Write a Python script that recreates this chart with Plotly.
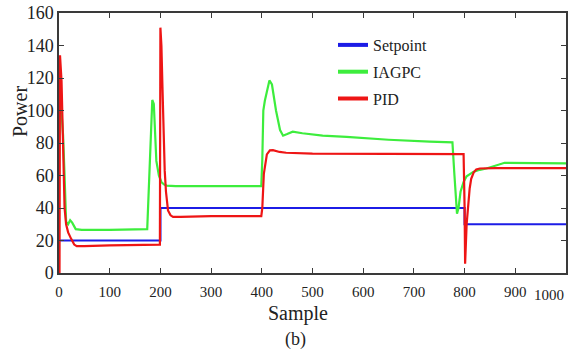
import plotly.graph_objects as go

# ---- data ----
setpoint_x = [0, 200, 200, 800, 800, 1000]
setpoint_y = [20, 20, 40, 40, 30, 30]

iagpc_x = [3, 5, 8, 11, 14, 18, 22, 26, 33, 45, 100, 174, 178, 182, 184, 187, 192, 197,
           202, 207, 212, 230, 300, 399, 401, 403, 406, 410, 415, 420, 428, 436, 442,
           450, 461, 480, 520, 567, 650, 731, 776, 780, 785, 788, 792, 798, 804, 817,
           830, 843, 860, 879, 1000]
iagpc_y = [108, 100, 85, 60, 31.5, 30, 32.5, 31, 27, 26.5, 26.5, 27, 60, 100, 106.5, 104,
           69, 60, 56, 54.5, 53.8, 53.5, 53.5, 53.5, 70, 100, 106, 112, 118.5, 116, 100,
           88, 84.5, 85.5, 87, 86, 84.5, 83.8, 82, 80.8, 80.4, 60, 36.5, 40, 50, 56,
           59.5, 62.2, 63.5, 64.3, 66, 67.8, 67.5]

pid_x = [1, 2, 5, 8, 11, 14, 18, 24, 30, 35, 50, 100, 199, 200, 202, 204, 206, 208.5, 211,
         215, 220, 225, 240, 300, 399, 401, 404, 410, 416, 422, 435, 448, 500, 600, 700,
         798, 800, 801, 804, 807, 810, 813, 818, 823, 830, 860, 1000]
pid_y = [0, 134, 118, 85, 40, 30, 25, 21, 17.5, 16.5, 16.5, 17, 17.5, 151, 140, 115, 90,
         63, 50, 38.5, 35.5, 34.5, 34.5, 35, 35, 40, 61, 73, 75.5, 75.6, 74.5, 74, 73.5,
         73.3, 73.2, 73.1, 40, 5.7, 30, 42.7, 52, 58, 62, 63.7, 64.3, 64.5, 64.5]

x_ticks = [0, 100, 200, 300, 400, 500, 600, 700, 800, 900]
y_ticks = [0, 20, 40, 60, 80, 100, 120, 140, 160]

BLUE = "#1c1ce6"
GREEN = "#3ded3d"
RED = "#ee1515"
FONT = "Liberation Serif, Times New Roman, serif"
AX = "#3a3a3a"
TXT = "#222"

W, H = 573, 350
ML, MR, MT, MB = 59, 7, 13, 77
PW = W - ML - MR
PH = H - MT - MB


def px_x(p):  # page pixel -> paper x
    return (p - ML) / PW


def px_y(p):  # page pixel -> paper y
    return (H - MB - p) / PH


fig = go.Figure()
fig.add_trace(go.Scatter(x=setpoint_x, y=setpoint_y, mode="lines",
                         line=dict(color=BLUE, width=2.2), showlegend=False))
fig.add_trace(go.Scatter(x=iagpc_x, y=iagpc_y, mode="lines",
                         line=dict(color=GREEN, width=2.2), showlegend=False))
fig.add_trace(go.Scatter(x=pid_x, y=pid_y, mode="lines",
                         line=dict(color=RED, width=2.2), showlegend=False))

# legend entries
for name, col in [("Setpoint", BLUE), ("IAGPC", GREEN), ("PID", RED)]:
    fig.add_trace(go.Scatter(x=[None], y=[None], mode="lines", name=name,
                             legendgroup=name, line=dict(color=col, width=4)))

fig.update_layout(
    width=W, height=H,
    margin=dict(l=ML, r=MR, t=MT, b=MB, autoexpand=False),
    paper_bgcolor="white", plot_bgcolor="white",
    font=dict(family=FONT, color=TXT),
    legend=dict(x=px_x(333), y=px_y(28), xanchor="left", yanchor="top",
                bgcolor="rgba(0,0,0,0)", font=dict(family=FONT, size=16, color=TXT),
                traceorder="grouped", tracegroupgap=3, itemwidth=30),
    xaxis=dict(range=[0, 1000], tickvals=x_ticks, ticks="inside", ticklen=5,
               tickcolor=AX, showline=True, linecolor=AX, linewidth=1.5, mirror="ticks",
               showgrid=False, zeroline=False, automargin=False, ticklabelstandoff=4,
               ticklabeloverflow="allow",
               tickfont=dict(family=FONT, size=15, color=TXT)),
    yaxis=dict(range=[0, 160], tickvals=y_ticks, ticks="inside", ticklen=5,
               tickcolor=AX, showline=True, linecolor=AX, linewidth=1.5, mirror="ticks",
               showgrid=False, zeroline=False, automargin=False,
               ticklabeloverflow="allow",
               tickfont=dict(family=FONT, size=18, color=TXT)),
    annotations=[
        dict(text="1000", x=1000, y=0, xref="x", yref="paper", xanchor="right",
             yanchor="top", yshift=-12, showarrow=False,
             font=dict(family=FONT, size=15, color=TXT)),
        dict(text="Power", x=px_x(20), y=px_y(112), xref="paper", yref="paper",
             xanchor="center", yanchor="middle",
             textangle=-90, showarrow=False, font=dict(family=FONT, size=20, color=TXT)),
        dict(text="Sample", x=px_x(298), y=px_y(313), xref="paper", yref="paper",
             xanchor="center", yanchor="middle",
             showarrow=False, font=dict(family=FONT, size=20, color=TXT)),
        dict(text="(b)", x=px_x(295), y=px_y(339), xref="paper", yref="paper",
             xanchor="center", yanchor="middle",
             showarrow=False, font=dict(family=FONT, size=18, color=TXT)),
    ],
)

# remove the browser's default 8px page margin so the figure sits at (0, 0)
fig.write_html("out.html", config={"displayModeBar": False},
               post_script="document.body.style.margin='0';")
